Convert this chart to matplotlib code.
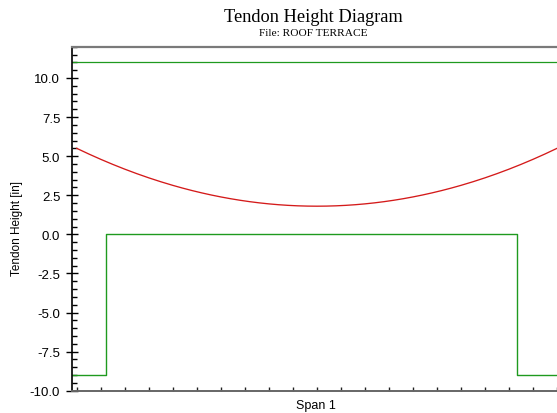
import numpy as np
import matplotlib
matplotlib.use("Agg")
import matplotlib.pyplot as plt
from matplotlib.ticker import MultipleLocator, FormatStrFormatter

# Data (x in span tick units: 0..20 across the span)
x_ticks = list(range(0, 21))
span_start, span_end = 0.0, 20.0
tendon_end_height = 5.5      # in, at both supports
tendon_mid_height = 1.8      # in, at midspan (low point)
top_x = [-0.21, 20.0]
top_y = [11.0, 11.0]
bottom_x = [-0.21, 1.22, 1.22, 18.35, 18.35, 20.0]
bottom_y = [-9.0, -9.0, 0.0, 0.0, -9.0, -9.0]
y_major = [-10.0, -7.5, -5.0, -2.5, 0.0, 2.5, 5.0, 7.5, 10.0]

# parabolic tendon profile through the read end/mid heights
L = span_end - span_start
xs = np.linspace(span_start, span_end, 201)
ys = tendon_mid_height + (tendon_end_height - tendon_mid_height) * ((xs - L / 2) / (L / 2)) ** 2

PX = 0.72  # points per pixel at dpi 100

fig = plt.figure(figsize=(5.57, 4.14), dpi=100)
ax = fig.add_axes([71.7 / 557, (414 - 391.7) / 414, 1 - 71.7 / 557, (391.7 - 47.7) / 414])

ax.plot(top_x, top_y, color="#1f9a1f", lw=0.9)
ax.plot(bottom_x, bottom_y, color="#1f9a1f", lw=1.0)
ax.plot(xs, ys, color="#d41a1a", lw=0.95)

ax.set_xlim(-0.21, 20.0)
ax.set_ylim(-10, 12)
ax.set_xticks(x_ticks)
ax.set_xticklabels([])
ax.set_yticks(y_major)
ax.yaxis.set_minor_locator(MultipleLocator(0.5))
ax.yaxis.set_major_formatter(FormatStrFormatter("%.1f"))

ax.tick_params(axis="y", which="major", direction="inout", length=12 * PX, width=1.0,
               labelsize=9.5, pad=5.5 * PX, colors="black")
ax.tick_params(axis="y", which="minor", direction="in", length=5 * PX, width=1.0)
ax.tick_params(axis="x", which="major", direction="in", length=4.5 * PX, width=1.0, color="#222222")
for lab in ax.get_yticklabels():
    lab.set_fontfamily("Liberation Sans")

ax.spines["right"].set_visible(False)
ax.spines["left"].set_color("black")
ax.spines["left"].set_linewidth(1.2)
ax.spines["top"].set_color("#7a7a7a")
ax.spines["top"].set_linewidth(1.6)
ax.spines["bottom"].set_color("#666666")
ax.spines["bottom"].set_linewidth(1.4)

fig.text(315.5 / 557, 1 - 406.5 / 414, "Span 1", ha="center", va="center",
         fontsize=9, family="Liberation Sans")
fig.text(16.7 / 557, 1 - 228 / 414, "Tendon Height [in]", ha="center", va="center",
         rotation=90, fontsize=8.5, family="Liberation Sans")

fig.text(313 / 557, 1 - 18 / 414, "Tendon Height Diagram", ha="center", va="center",
         fontsize=13.2, family="Liberation Serif")
fig.text(313 / 557, 1 - 33 / 414, "File: ROOF TERRACE", ha="center", va="center",
         fontsize=8.2, family="Liberation Serif")

fig.savefig("out.png", dpi=100)
